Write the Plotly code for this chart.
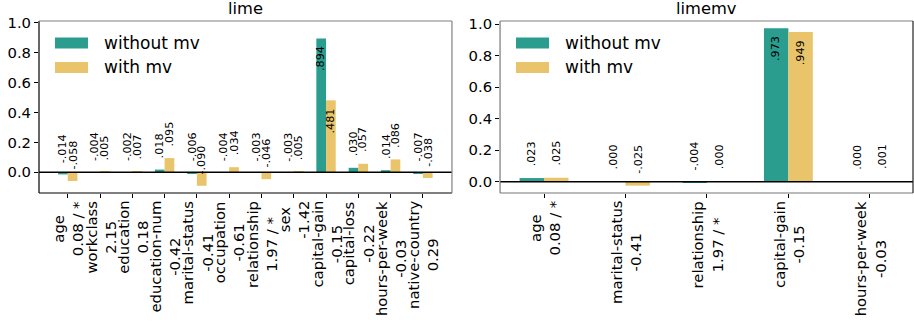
import plotly.graph_objects as go
from plotly.subplots import make_subplots

# ---- data -------------------------------------------------------------
lime_features = ["age", "workclass", "education", "education-num", "marital-status",
                 "occupation", "relationship", "sex", "capital-gain", "capital-loss",
                 "hours-per-week", "native-country"]
lime_coefs = ["0.08 / *", "2.15", "0.18", "-0.42", "-0.41", "-0.61", "1.97 / *",
              "-1.42", "-0.15", "-0.22", "-0.03", "0.29"]
lime_without_mv = [-0.014, -0.004, -0.002, 0.018, -0.006, -0.004, -0.003, -0.003,
                   0.894, 0.030, 0.014, -0.007]
lime_with_mv = [-0.058, 0.005, 0.007, 0.095, -0.090, 0.034, -0.046, 0.005,
                0.481, 0.057, 0.086, -0.038]

limemv_features = ["age", "marital-status", "relationship", "capital-gain", "hours-per-week"]
limemv_coefs = ["0.08 / *", "-0.41", "1.97 / *", "-0.15", "-0.03"]
limemv_without_mv = [0.023, 0.000, -0.004, 0.973, 0.000]
limemv_with_mv = [0.025, -0.025, 0.000, 0.949, 0.001]

yticks = [0.0, 0.2, 0.4, 0.6, 0.8, 1.0]

TEAL = "#2a9d8f"
SAND = "#e9c46a"
FONT = "DejaVu Sans"
TICK_SIZE = 14.8
LEGEND_SIZE = 17
TITLE_SIZE = 16.3
VALUE_SIZE = 11.2

fig = make_subplots(rows=1, cols=2, horizontal_spacing=0.055)


def fmt(v):
    s = f"{abs(v):.3f}"[1:]
    return ("-" + s) if v < 0 else s


panels = [
    (1, "lime", lime_features, lime_coefs, lime_without_mv, lime_with_mv, [-0.1384, 1.0114]),
    (2, "limemv", limemv_features, limemv_coefs, limemv_without_mv, limemv_with_mv, [-0.0717, 1.019]),
]

shapes = []
annotations = []
for col, title, feats, coefs, without, withmv, yr in panels:
    xref = "x" if col == 1 else "x2"
    yref = "y" if col == 1 else "y2"
    fig.add_trace(go.Bar(x=feats, y=without, name="without mv", marker_color=TEAL,
                         marker_line_width=0, showlegend=False), row=1, col=col)
    fig.add_trace(go.Bar(x=feats, y=withmv, name="with mv", marker_color=SAND,
                         marker_line_width=0, showlegend=False), row=1, col=col)

    n = len(feats)
    fig.update_xaxes(row=1, col=col, type="category", tickvals=feats,
                     showticklabels=False,
                     ticks="outside", ticklen=4, tickwidth=1,
                     tickcolor="#000", showgrid=False, zeroline=False, showline=False,
                     range=[-0.89 if col == 1 else -0.54, n - 1 + (0.9 if col == 1 else 0.53)],
                     automargin=False)
    fig.update_yaxes(row=1, col=col, range=yr, tickvals=yticks, tickformat=".1f",
                     ticks="outside", ticklen=4, tickwidth=1, tickcolor="#000",
                     showgrid=False, zeroline=False, showline=False,
                     tickfont=dict(family=FONT, size=TICK_SIZE, color="#000"),
                     automargin=False)

    # two-line category labels (feature name / coefficient), lines centred
    for i, (f, c) in enumerate(zip(feats, coefs)):
        annotations.append(dict(x=i, y=0, xref=xref, yref=f"{yref} domain",
                                text=f"{f}<br>{c}", textangle=-90, align="center",
                                showarrow=False, xanchor="center", yanchor="top",
                                yshift=-7, borderpad=0,
                                font=dict(family=FONT, size=TICK_SIZE, color="#000")))

    # value labels above / inside each bar
    for i in range(n):
        for off, v in ((-0.15, without[i]), (0.15, withmv[i])):
            if v > 0.4:
                y, ya = v - 0.045, "top"
            else:
                y, ya = v + 0.07, "bottom"
            annotations.append(dict(x=i + off, y=y, xref=xref, yref=yref,
                                    text=fmt(v), textangle=-90, showarrow=False,
                                    xanchor="center", yanchor=ya, borderpad=0,
                                    font=dict(family=FONT, size=VALUE_SIZE, color="#000")))

    # zero line
    shapes.append(dict(type="line", xref=f"{xref} domain", yref=yref,
                       x0=0, x1=1, y0=0, y1=0, line=dict(color="#000", width=1.5)))

    # axes frame
    dark = "#000" if col == 1 else "#777"
    frame = [
        (0, 0, 0, 1, dark),        # left
        (0, 0, 1, 0, dark),        # bottom
        (0, 1, 1, 1, "#808080"),   # top
        (1, 0, 1, 1, "#808080" if col == 1 else "#222"),  # right
    ]
    for x0, y0, x1, y1, c in frame:
        shapes.append(dict(type="line", xref=f"{xref} domain", yref=f"{yref} domain",
                           x0=x0, y0=y0, x1=x1, y1=y1, line=dict(color=c, width=1.2)))

    # legend keys
    for (name, color, yk0, yk1, yt) in (("without mv", TEAL, 0.840, 0.9036, 0.872),
                                         ("with mv", SAND, 0.698, 0.762, 0.730)):
        shapes.append(dict(type="rect", xref=f"{xref} domain", yref=f"{yref} domain",
                           x0=0.0387, x1=0.1186, y0=yk0, y1=yk1,
                           fillcolor=color, line=dict(width=0)))
        annotations.append(dict(x=0.1525, y=yt, xref=f"{xref} domain", yref=f"{yref} domain",
                                text=name, showarrow=False, xanchor="left", yanchor="middle",
                                font=dict(family=FONT, size=LEGEND_SIZE, color="#000")))

    # panel title
    annotations.append(dict(x=0.5, y=1.07, xref=f"{xref} domain", yref="paper",
                            text=title, showarrow=False, xanchor="center", yanchor="middle",
                            font=dict(family=FONT, size=TITLE_SIZE, color="#000")))

fig.update_layout(
    width=914, height=322,
    margin=dict(l=39, r=1, t=21, b=129, autoexpand=False),
    barmode="group", bargap=0.4, bargroupgap=0,
    plot_bgcolor="#fff", paper_bgcolor="#fff",
    font=dict(family=FONT, color="#000"),
    shapes=shapes, annotations=annotations,
)

fig.write_html("out.html")
